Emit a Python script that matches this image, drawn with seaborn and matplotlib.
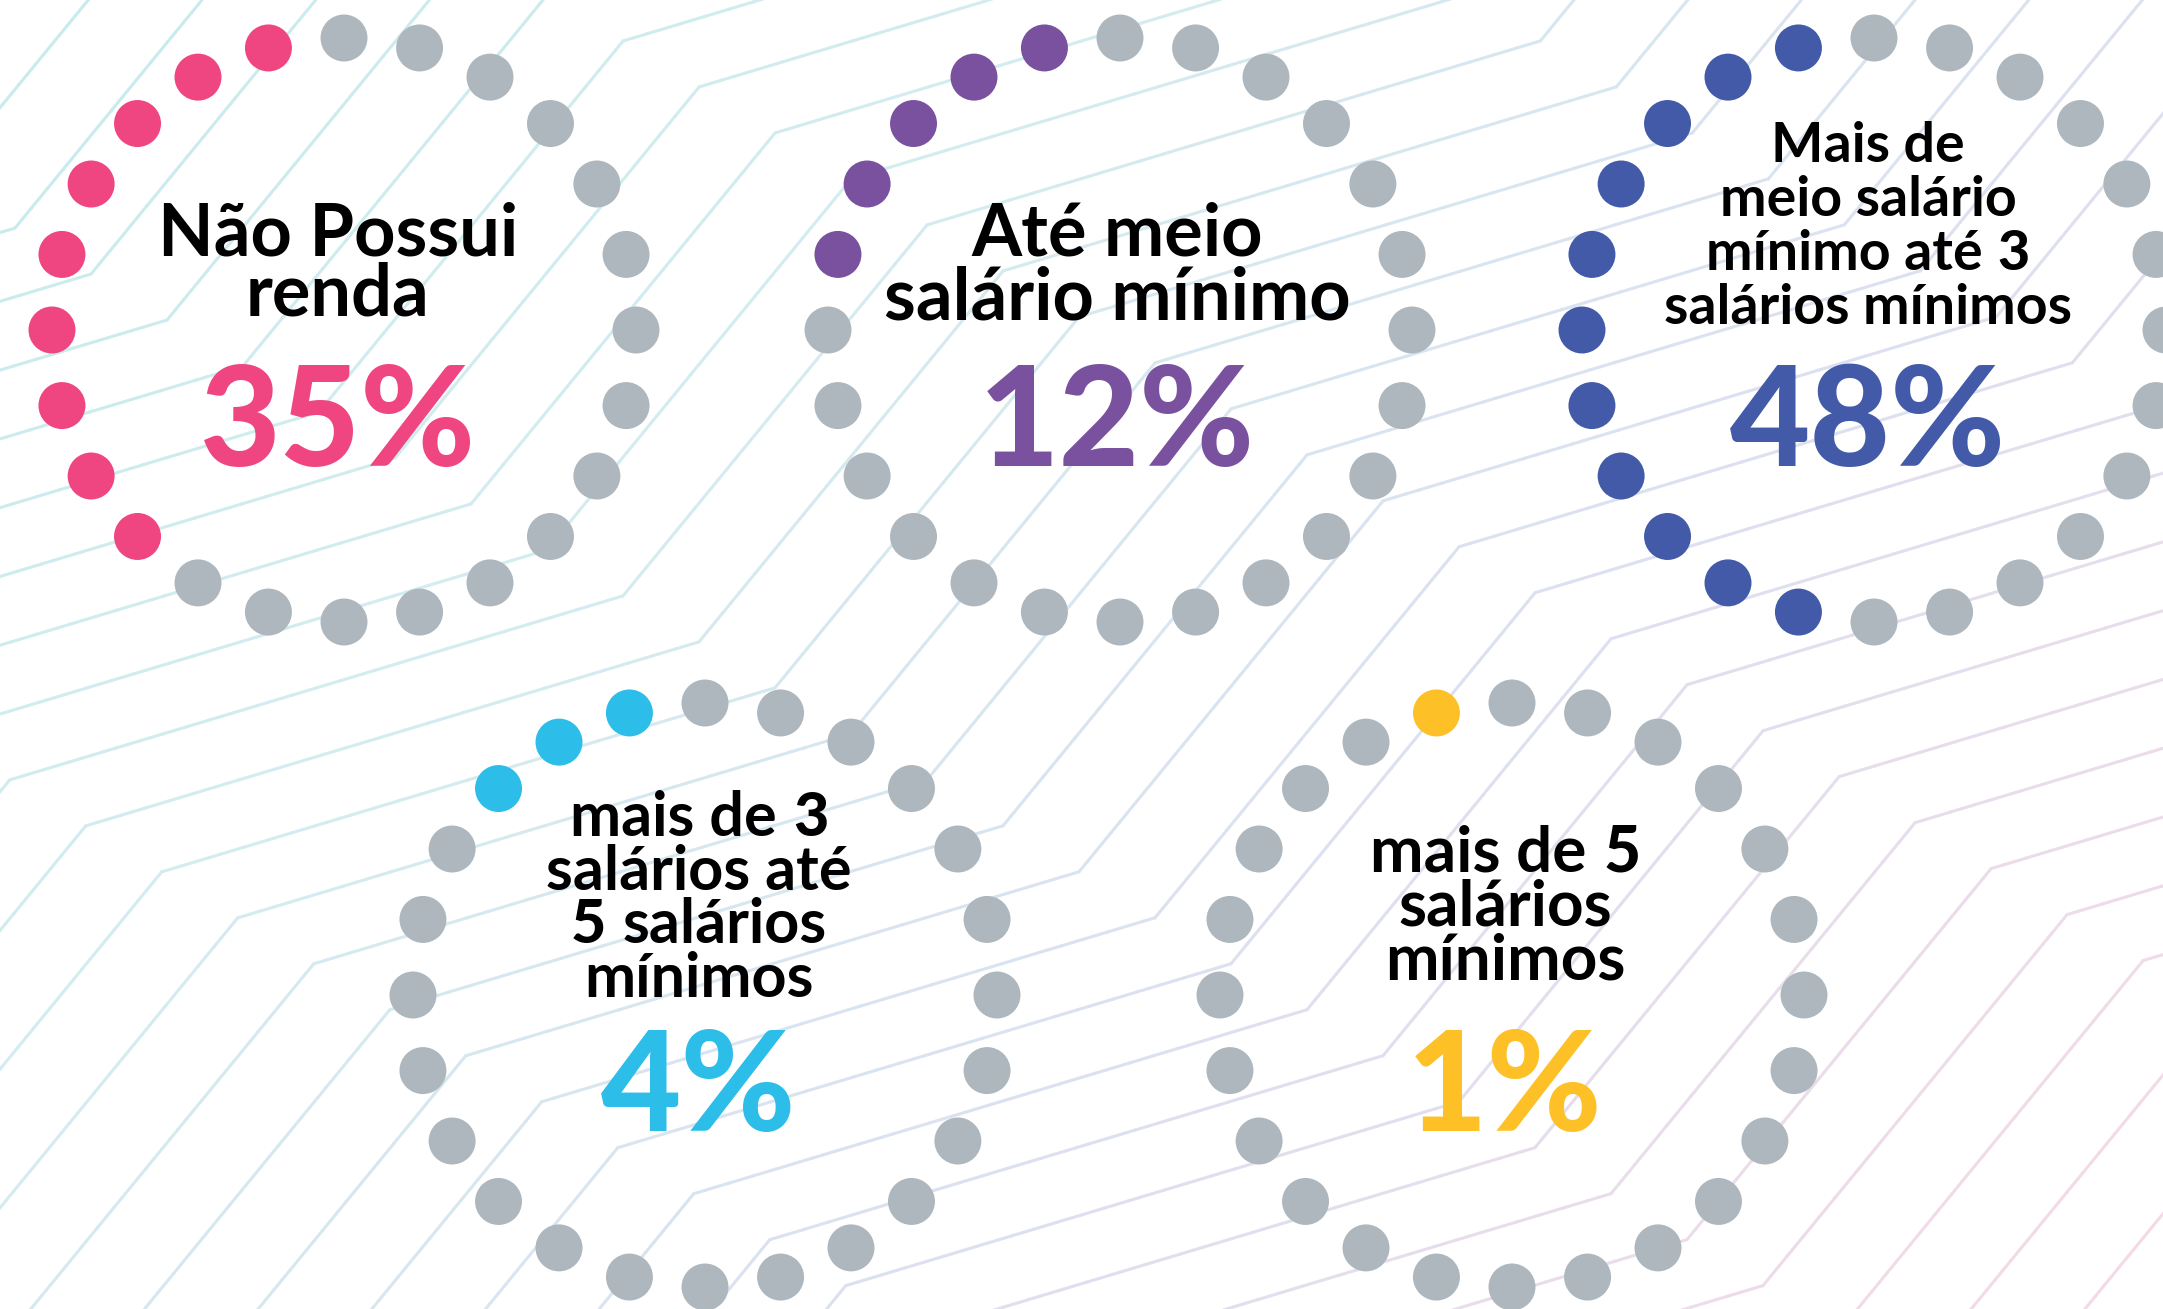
import numpy as np
import pandas as pd
import seaborn as sns
import matplotlib.pyplot as plt
from matplotlib.collections import LineCollection
from matplotlib.colors import LinearSegmentedColormap

# data
labels = ["Não Possui\nrenda",
          "Até meio\nsalário mínimo",
          "Mais de\nmeio salário\nmínimo até *3*\nsalários mínimos",
          "mais de *3*\nsalários até\n*5* salários\nmínimos",
          "mais de *5*\nsalários\nmínimos"]
percents = ["35%", "12%", "48%", "4%", "1%"]
highlighted = [9, 5, 11, 3, 1]          # coloured dots out of 24
n_dots = 24
colors = ["#EF4581", "#7A519F", "#425AA8", "#2CBDE9", "#FDC026"]
gray = "#ADB7BD"

# layout (pixels)
W, H = 2163, 1309
centers = [(344, 330), (1120, 330), (1874, 330), (705, 995), (1512, 995)]
radius = 292
label_x = [338, 1117, 1868, 699, 1505]
label_base = [[255, 316], [256, 320], [162, 216, 270, 324],
              [836, 890, 943, 997], [872, 926, 980]]
label_size = [52, 52, 40, 44, 46]
pct_base = [466, 466, 466, 1131, 1131]
pct_size = 100

sns.set_theme(style="white")
plt.rcParams['font.family'] = ['Lato', 'DejaVu Sans']

fig = plt.figure(figsize=(W / 100, H / 100), dpi=100)
ax = fig.add_axes([0, 0, 1, 1])

# background circuit-like traces
M, STEEP, SHALLOW, C0, DC = 0.605, 1.22, 0.30, 219, 555


def kink(px, py, slope, c):
    x = (py + slope * px - c) / (slope + M)
    return x, c + M * x


cmap = LinearSegmentedColormap.from_list("bg", ["#C8EBEC", "#D3ECEF", "#DCE0F0", "#F4DAE7"])
segs, cols = [], []
for t in range(-35, 55):
    bx = 15 + 76 * t
    b = (bx, C0 + M * bx)
    fwd = [b]
    for k in range(1, 5):
        slope = STEEP if k % 2 else SHALLOW
        fwd.append(kink(*fwd[-1], slope, C0 - k * DC))
    back = [b]
    for k in range(1, 4):
        slope = SHALLOW if k % 2 else STEEP
        back.append(kink(*back[-1], slope, C0 + k * DC))
    pts = np.array(back[::-1] + fwd[1:])
    for p0, p1 in zip(pts[:-1], pts[1:]):
        n = max(2, int(np.hypot(*(p1 - p0)) / 12))
        xs = np.linspace(p0[0], p1[0], n)
        ys = np.linspace(p0[1], p1[1], n)
        for i in range(n - 1):
            segs.append([(xs[i], ys[i]), (xs[i + 1], ys[i + 1])])
            cols.append(cmap(np.clip((xs[i] + ys[i]) / (W + H) * 1.05, 0, 1)))
ax.add_collection(LineCollection(segs, colors=cols, linewidths=2.2, zorder=0,
                                 capstyle='round'))

# dots
rows = []
for g, ((cx, cy), n) in enumerate(zip(centers, highlighted)):
    for i in range(n_dots):
        a = np.deg2rad(90 + 15 * i)
        rows.append({"x": cx + radius * np.cos(a), "y": cy - radius * np.sin(a),
                     "grp": f"c{g}" if 1 <= i <= n else "gray"})
dots = pd.DataFrame(rows)
pal = {f"c{g}": c for g, c in enumerate(colors)}
pal["gray"] = gray
sns.scatterplot(data=dots, x="x", y="y", hue="grp", palette=pal, s=1144,
                linewidth=0, legend=False, ax=ax, zorder=3)

ax.set_xlim(0, W)
ax.set_ylim(H, 0)
ax.axis("off")

renderer = fig.canvas.get_renderer()


def draw_line(cx, y, line, size, color="black"):
    parts = line.split("*")
    items = []
    for i, p in enumerate(parts):
        if not p.strip():
            continue
        t = ax.text(0, y, p.strip(), fontsize=size, color=color, ha="left",
                    va="baseline", fontweight="black" if i % 2 else "bold", zorder=5)
        items.append((t, p.startswith(" ") and len(items) > 0, p.endswith(" ")))
    gap = 0.27 * size * 100 / 72
    widths = [t.get_window_extent(renderer).width for t, _, _ in items]
    spaces = []
    for j in range(len(items)):
        spaces.append(gap if j > 0 and (items[j][1] or items[j - 1][2]) else 0)
    total = sum(widths) + sum(spaces)
    x = cx - total / 2
    for (t, _, _), w, s in zip(items, widths, spaces):
        x += s
        t.set_x(x)
        x += w


for g in range(len(labels)):
    for line, yb in zip(labels[g].split("\n"), label_base[g]):
        draw_line(label_x[g], yb, line, label_size[g])
    ax.text(label_x[g], pct_base[g], percents[g], fontsize=pct_size, color=colors[g],
            ha="center", va="baseline", fontweight="black", zorder=5)

fig.savefig("out.png", dpi=100, facecolor="white")
